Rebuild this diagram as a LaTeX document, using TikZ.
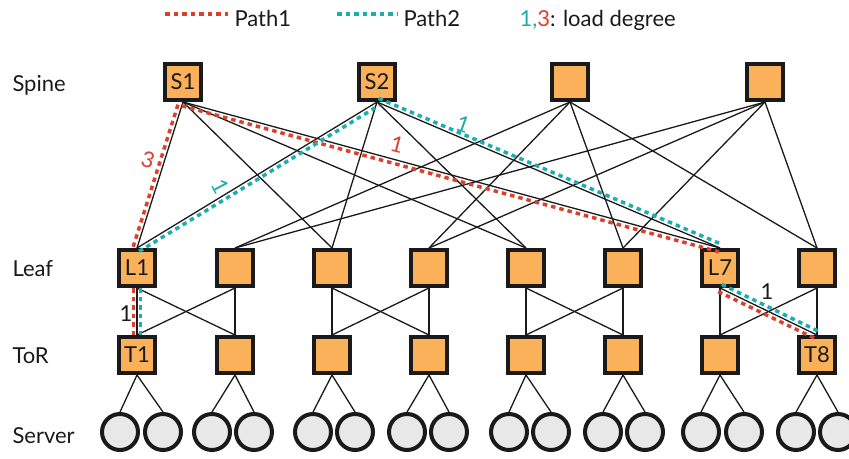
\documentclass[tikz,border=0pt]{standalone}
\usepackage{fontspec}
\setmainfont{Lato}
\usetikzlibrary{calc}

\definecolor{boxfill}{RGB}{251,176,90}
\definecolor{edgecol}{RGB}{26,26,26}
\definecolor{hostfill}{RGB}{232,232,232}
\definecolor{pathred}{RGB}{218,64,44}
\definecolor{pathteal}{RGB}{28,174,174}

\begin{document}
\begin{tikzpicture}[x=1pt, y=-1pt,
    every node/.style={font=\fontsize{22}{26}\selectfont, text=edgecol},
    switch/.style={rectangle, draw=edgecol, line width=4pt, fill=boxfill, minimum size=36pt, inner sep=0pt},
    host/.style={circle, draw=edgecol, line width=4pt, fill=hostfill, minimum size=36pt, inner sep=0pt},
    link/.style={line width=1.3pt, edgecol},
    pathone/.style={line width=3.5pt, pathred, dash pattern=on 4.5pt off 4pt},
    pathtwo/.style={line width=3.5pt, pathteal, dash pattern=on 4.5pt off 4pt}]
      \useasboundingbox (0,0) rectangle (849,458);

      % layer names
      \node[anchor=base west] (spine) at (9,91) {Spine};
      \node[anchor=base west] (leaf) at (9,276) {Leaf};
      \node[anchor=base west] (tor) at (9,363) {ToR};
      \node[anchor=base west] (server) at (9,443) {Server};

      % legend
      \coordinate (r0) at (165,14);
      \coordinate (r1) at (228,14);
      \coordinate (t0) at (337,14);
      \coordinate (t1) at (398,14);
      \draw[pathone] (r0) -- (r1);
      \draw[pathtwo] (t0) -- (t1);
      \node[anchor=base west] (leg1) at (231,26) {Path1};
      \node[anchor=base west] (leg2) at (400,26) {Path2};
      \node[anchor=base west] (leg3) at (516,26) {\textcolor{pathteal}{1,}\textcolor{pathred}{3}: load degree};

      % spine
      \node[switch] (S1) at (183,82) {S1};
      \node[switch] (S2) at (377,82) {S2};
      \node[switch] (S3) at (570,82) {};
      \node[switch] (S4) at (765,82) {};

      % leaf
      \node[switch] (L1) at (137,268) {L1};
      \node[switch] (L2) at (235,268) {};
      \node[switch] (L3) at (332,268) {};
      \node[switch] (L4) at (429,268) {};
      \node[switch] (L5) at (526,268) {};
      \node[switch] (L6) at (623,268) {};
      \node[switch] (L7) at (720,268) {L7};
      \node[switch] (L8) at (817,268) {};

      % tor
      \node[switch] (T1) at (137,355) {T1};
      \node[switch] (T2) at (235,355) {};
      \node[switch] (T3) at (332,355) {};
      \node[switch] (T4) at (429,355) {};
      \node[switch] (T5) at (526,355) {};
      \node[switch] (T6) at (623,355) {};
      \node[switch] (T7) at (720,355) {};
      \node[switch] (T8) at (817,355) {T8};

      % servers
      \node[host] (H1) at (120,432) {};
      \node[host] (H2) at (163,432) {};
      \node[host] (H3) at (212,432) {};
      \node[host] (H4) at (254,432) {};
      \node[host] (H5) at (313,432) {};
      \node[host] (H6) at (355,432) {};
      \node[host] (H7) at (407,432) {};
      \node[host] (H8) at (449,432) {};
      \node[host] (H9) at (509,432) {};
      \node[host] (H10) at (551,432) {};
      \node[host] (H11) at (603,432) {};
      \node[host] (H12) at (645,432) {};
      \node[host] (H13) at (701,432) {};
      \node[host] (H14) at (744,432) {};
      \node[host] (H15) at (796,432) {};
      \node[host] (H16) at (838,432) {};

      % spine -- leaf
      \draw[link] (S1.south) -- (L1.north);
      \draw[link] (S1.south) -- (L3.north);
      \draw[link] (S1.south) -- (L5.north);
      \draw[link] (S1.south) -- (L7.north);
      \draw[link] (S2.south) -- (L1.north);
      \draw[link] (S2.south) -- (L3.north);
      \draw[link] (S2.south) -- (L5.north);
      \draw[link] (S2.south) -- (L7.north);
      \draw[link] (S3.south) -- (L2.north);
      \draw[link] (S3.south) -- (L4.north);
      \draw[link] (S3.south) -- (L6.north);
      \draw[link] (S3.south) -- (L8.north);
      \draw[link] (S4.south) -- (L2.north);
      \draw[link] (S4.south) -- (L4.north);
      \draw[link] (S4.south) -- (L6.north);
      \draw[link] (S4.south) -- (L8.north);

      % leaf -- tor
      \draw[link] (L1.south) -- (T1.north);
      \draw[link] (L1.south) -- (T2.north);
      \draw[link] (L2.south) -- (T1.north);
      \draw[link] (L2.south) -- (T2.north);
      \draw[link] (L3.south) -- (T3.north);
      \draw[link] (L3.south) -- (T4.north);
      \draw[link] (L4.south) -- (T3.north);
      \draw[link] (L4.south) -- (T4.north);
      \draw[link] (L5.south) -- (T5.north);
      \draw[link] (L5.south) -- (T6.north);
      \draw[link] (L6.south) -- (T5.north);
      \draw[link] (L6.south) -- (T6.north);
      \draw[link] (L7.south) -- (T7.north);
      \draw[link] (L7.south) -- (T8.north);
      \draw[link] (L8.south) -- (T7.north);
      \draw[link] (L8.south) -- (T8.north);

      % tor -- server
      \draw[link] (T1.south) -- (H1.north);
      \draw[link] (T1.south) -- (H2.north);
      \draw[link] (T2.south) -- (H3.north);
      \draw[link] (T2.south) -- (H4.north);
      \draw[link] (T3.south) -- (H5.north);
      \draw[link] (T3.south) -- (H6.north);
      \draw[link] (T4.south) -- (H7.north);
      \draw[link] (T4.south) -- (H8.north);
      \draw[link] (T5.south) -- (H9.north);
      \draw[link] (T5.south) -- (H10.north);
      \draw[link] (T6.south) -- (H11.north);
      \draw[link] (T6.south) -- (H12.north);
      \draw[link] (T7.south) -- (H13.north);
      \draw[link] (T7.south) -- (H14.north);
      \draw[link] (T8.south) -- (H15.north);
      \draw[link] (T8.south) -- (H16.north);

      % path 1
      \draw[pathone] ($(T1.north)!3.5pt!90:(L1.south)$) -- ($(L1.south)!3.5pt!-90:(T1.north)$);
      \draw[pathone] ($(L1.north)!4pt!90:(S1.south)$) -- ($(S1.south)!4pt!-90:(L1.north)$);
      \draw[pathone] ($(S1.south)!4pt!-90:(L7.north)$) -- ($(L7.north)!4pt!90:(S1.south)$);
      \draw[pathone] ($(L7.south)!4pt!-90:(T8.north)$) -- ($(T8.north)!4pt!90:(L7.south)$);

      % path 2
      \draw[pathtwo] ($(T1.north)!3.5pt!-90:(L1.south)$) -- ($(L1.south)!3.5pt!90:(T1.north)$);
      \draw[pathtwo] ($(L1.north)!4pt!-90:(S2.south)$) -- ($(S2.south)!4pt!90:(L1.north)$);
      \draw[pathtwo] ($(S2.south)!4pt!90:(L7.north)$) -- ($(L7.north)!4pt!-90:(S2.south)$);
      \draw[pathtwo] ($(L7.south)!4pt!90:(T8.north)$) -- ($(T8.north)!4pt!-90:(L7.south)$);

      % load degrees
      \node[text=pathred, rotate=-17] (w1) at (148,160) {3};
      \node[text=pathteal, rotate=-62] (w2) at (220,186) {1};
      \node[text=pathred, rotate=-15] (w3) at (397,145) {1};
      \node[text=pathteal, rotate=-20] (w4) at (463,124) {1};
      \node (w5) at (126,314) {1};
      \node (w6) at (767,292) {1};
    \end{tikzpicture}
\end{document}
